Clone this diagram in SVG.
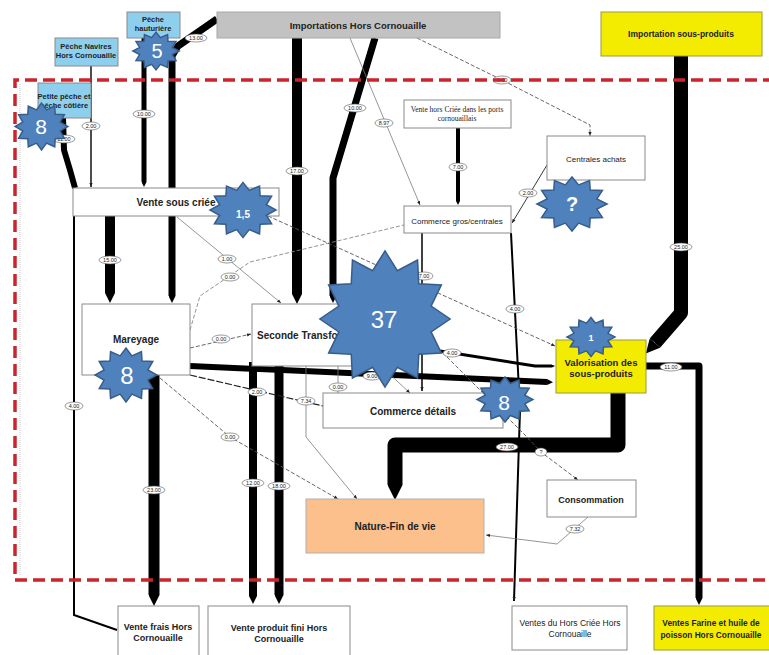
<svg xmlns="http://www.w3.org/2000/svg" xmlns:xlink="http://www.w3.org/1999/xlink" width="769" height="655" viewBox="0 0 769 655">
<style>
.box{fill:#fff;stroke:#8a8a8a;stroke-width:1}
.blue{fill:#8ecfee;stroke:#8a8a8a;stroke-width:1}
.grey{fill:#c2c2c2;stroke:#a8a8a8;stroke-width:1}
.yel{fill:#f4ec00;stroke:#9a9a40;stroke-width:1}
.org{fill:#fbc08c;stroke:#b0b0b0;stroke-width:1}
.t{font-family:"Liberation Sans",Arial,sans-serif;fill:#222;text-anchor:middle}
.ts{font-family:"Liberation Sans",Arial,sans-serif;fill:#222;text-anchor:start}
.b{font-weight:bold}
.ser{font-family:"Liberation Serif","Times New Roman",serif;fill:#222;text-anchor:middle}
.thick{fill:none;stroke:#000;stroke-linejoin:round;marker-end:url(#tip)}
.thin{fill:none;stroke:#7a7a7a;stroke-width:0.8;marker-end:url(#arr)}
.dash{fill:none;stroke:#555;stroke-width:0.9;stroke-dasharray:4 2;marker-end:url(#arr)}
.lbl ellipse{fill:#fff;stroke:#555;stroke-width:0.6}
.lbl text{font-family:"Liberation Sans",Arial,sans-serif;font-size:5.5px;fill:#222;text-anchor:middle}
.star{fill:#4f81bd;stroke:#385d8a;stroke-width:1.5;vector-effect:non-scaling-stroke}
.st{font-family:"Liberation Sans",Arial,sans-serif;fill:#fff;text-anchor:middle}
</style>
<defs>
<marker id="tip" viewBox="0 0 10 10" refX="0" refY="5" markerWidth="1" markerHeight="1" orient="auto" markerUnits="strokeWidth"><path d="M0,0 L10,5 L0,10 z" fill="#000"/></marker>
<marker id="arr" viewBox="0 0 10 10" refX="10" refY="5" markerWidth="4" markerHeight="4" orient="auto" markerUnits="userSpaceOnUse"><path d="M0,1 L10,5 L0,9 z" fill="#222"/></marker>
<polygon id="star" class="star" points="0,-30 5.69,-21.25 15,-25.98 15.56,-15.56 25.98,-15 21.25,-5.69 30,0 21.25,5.69 25.98,15 15.56,15.56 15,25.98 5.69,21.25 0,30 -5.69,21.25 -15,25.98 -15.56,15.56 -25.98,15 -21.25,5.69 -30,0 -21.25,-5.69 -25.98,-15 -15.56,-15.56 -15,-25.98 -5.69,-21.25"/>
</defs>
<rect width="769" height="655" fill="#fff"/>
<line x1="20" y1="84" x2="20" y2="576" stroke="#c8c8c8" stroke-width="1" stroke-dasharray="1 1"/>

<g id="connectors">
<path class="thick" stroke-width="7" d="M217,19 L178,46 L172,56 V296"/>
<path class="thick" stroke-width="5" d="M144,38 V182"/>
<path fill="none" stroke="#000" stroke-width="6" stroke-linejoin="round" d="M63,118 L64,150 L70,170 L75,188"/>
<path class="thick" stroke-width="10" d="M110,216 V293"/>
<path class="thick" stroke-width="10" d="M297,38 V294"/>
<path class="thick" stroke-width="7" d="M375,38 L333,178 V296"/>
<path class="thick" stroke-width="4" d="M458,128 V201"/>
<path class="thick" stroke-width="11" d="M154,375 V595"/>
<path class="thick" stroke-width="8" d="M253,362 V596"/>
<path class="thick" stroke-width="9" d="M279,366 V595"/>
<path class="thick" stroke-width="15" d="M618,393 V445 H395 V485"/>
<path class="thick" stroke-width="7" d="M646,366 H699 V598"/>
<path class="thick" stroke-width="14" d="M681,56 V313 L655,343"/>
<path class="thick" stroke-width="6" d="M190,366 L547,382"/>
<path class="thick" stroke-width="3" d="M440,351 L535,366 H552"/>
<path fill="none" stroke="#000" stroke-width="2" d="M511,233 L520,410 L514,601" marker-end="url(#arr)"/>
<path fill="none" stroke="#000" stroke-width="2" d="M74,216 V615 L117,630"/>
<path fill="none" stroke="#000" stroke-width="1.5" d="M422,233 V391" marker-end="url(#arr)"/>
<path fill="none" stroke="#000" stroke-width="1.4" d="M91,66 V187" marker-end="url(#arr)"/>
<path class="thin" d="M177,217 L281,303"/>
<path class="thin" d="M350,38 L420,205"/>
<path class="dash" stroke="#222" d="M417,38 L500,79 L590,125 V136"/>
<path fill="none" stroke="#222" stroke-width="0.9" d="M547,165 L512,223" marker-end="url(#arr)"/>
<path fill="none" stroke="#888" stroke-width="0.9" stroke-dasharray="4 2" d="M190,330 L200,296 L250,262 L404,225"/>
<path class="dash" stroke="#777" d="M190,348 L251,334"/>
<path fill="none" stroke="#222" stroke-width="1.2" stroke-dasharray="7 2" d="M190,375 L323,406"/>
<path class="thin" d="M306,366 V437 L357,499"/>
<path class="dash" stroke="#888" d="M160,378 L230,437 L338,499"/>
<path fill="none" stroke="#7a7a7a" stroke-width="0.8" d="M338,366 V393"/>
<path class="thin" d="M385,370 L410,393"/>
<path class="dash" stroke="#888" d="M430,340 L525,435 L541,452 L578,480"/>
<path class="dash" stroke="#888" d="M268,216 L555,346"/>
<path class="thin" stroke="#555" d="M588,517 L557,544 L486,535"/>
<g class="lbl"><ellipse cx="196" cy="38" rx="11" ry="4"/><text x="196" y="40">13.00</text></g>
<g class="lbl"><ellipse cx="144" cy="114" rx="11" ry="4"/><text x="144" y="116">10.00</text></g>
<g class="lbl"><ellipse cx="91" cy="126" rx="9" ry="4"/><text x="91" y="128">2.00</text></g>
<g class="lbl"><ellipse cx="64" cy="139" rx="11" ry="4"/><text x="64" y="141">11.00</text></g>
<g class="lbl"><ellipse cx="110" cy="260" rx="11" ry="4"/><text x="110" y="262">15.00</text></g>
<g class="lbl"><ellipse cx="297" cy="171" rx="11" ry="4"/><text x="297" y="173">17.00</text></g>
<g class="lbl"><ellipse cx="355" cy="108" rx="11" ry="4"/><text x="355" y="110">10.00</text></g>
<g class="lbl"><ellipse cx="384" cy="123" rx="9" ry="4"/><text x="384" y="125">8.97</text></g>
<g class="lbl"><ellipse cx="502" cy="80" rx="9" ry="4"/><text x="502" y="82">0.00</text></g>
<g class="lbl"><ellipse cx="458" cy="167" rx="9" ry="4"/><text x="458" y="169">7.00</text></g>
<g class="lbl"><ellipse cx="528" cy="193" rx="9" ry="4"/><text x="528" y="195">2.00</text></g>
<g class="lbl"><ellipse cx="227" cy="259" rx="9" ry="4"/><text x="227" y="261">1.00</text></g>
<g class="lbl"><ellipse cx="230" cy="277" rx="9" ry="4"/><text x="230" y="279">0.00</text></g>
<g class="lbl"><ellipse cx="221" cy="339" rx="9" ry="4"/><text x="221" y="341">0.00</text></g>
<g class="lbl"><ellipse cx="372" cy="376" rx="9" ry="4"/><text x="372" y="378">9.00</text></g>
<g class="lbl"><ellipse cx="452" cy="353" rx="9" ry="4"/><text x="452" y="355">4.00</text></g>
<g class="lbl"><ellipse cx="257" cy="392" rx="9" ry="4"/><text x="257" y="394">2.00</text></g>
<g class="lbl"><ellipse cx="306" cy="401" rx="9" ry="4"/><text x="306" y="403">7.34</text></g>
<g class="lbl"><ellipse cx="253" cy="483" rx="11" ry="4"/><text x="253" y="485">12.00</text></g>
<g class="lbl"><ellipse cx="279" cy="486" rx="11" ry="4"/><text x="279" y="488">18.00</text></g>
<g class="lbl"><ellipse cx="338" cy="387" rx="9" ry="4"/><text x="338" y="389">0.00</text></g>
<g class="lbl"><ellipse cx="424" cy="276" rx="9" ry="4"/><text x="424" y="278">7.00</text></g>
<g class="lbl"><ellipse cx="230" cy="437" rx="9" ry="4"/><text x="230" y="439">0.00</text></g>
<g class="lbl"><ellipse cx="154" cy="490" rx="11" ry="4"/><text x="154" y="492">23.00</text></g>
<g class="lbl"><ellipse cx="74" cy="406" rx="9" ry="4"/><text x="74" y="408">4.00</text></g>
<g class="lbl"><ellipse cx="507" cy="447" rx="11" ry="4"/><text x="507" y="449">27.00</text></g>
<g class="lbl"><ellipse cx="671" cy="367" rx="11" ry="4"/><text x="671" y="369">11.00</text></g>
<g class="lbl"><ellipse cx="681" cy="247" rx="11" ry="4"/><text x="681" y="249">25.00</text></g>
<g class="lbl"><ellipse cx="575" cy="529" rx="9" ry="4"/><text x="575" y="531">7.32</text></g>
<g class="lbl"><ellipse cx="515" cy="309" rx="9" ry="4"/><text x="515" y="311">4.00</text></g>
<g class="lbl"><ellipse cx="541" cy="452" rx="6" ry="4"/><text x="541" y="454">?</text></g>
</g>

<g id="n-peche-hauturiere"><rect class="blue" x="127" y="12" width="53" height="26"/><text class="t b" font-size="7.5" x="153" y="22">Pêche</text><text class="t b" font-size="7.5" x="153" y="31">hauturière</text></g>
<g id="n-peche-navires"><rect class="blue" x="55" y="38" width="63" height="28"/><text class="t b" font-size="7.5" x="86" y="49">Pêche  Navires</text><text class="t b" font-size="7.5" x="86" y="58">Hors Cornouaille</text></g>
<g id="n-petite-peche"><rect class="blue" x="38" y="83" width="53" height="35"/><text class="t b" font-size="7.5" x="64" y="99">Petite pêche et</text><text class="t b" font-size="7.5" x="64" y="108">pêche côtière</text></g>
<g id="n-importations"><rect class="grey" x="217" y="12" width="283" height="26"/><text class="t b" font-size="9.5" x="358" y="29">Importations Hors Cornouaille</text></g>
<g id="n-import-sp"><rect class="yel" x="601" y="12" width="161" height="44"/><text class="t b" font-size="8.5" x="681" y="37">Importation sous-produits</text></g>
<g id="n-vente-hors-criee"><rect class="box" x="404" y="100" width="107" height="28"/><text class="ser" font-size="7.5" x="457" y="112">Vente hors Criée dans les ports</text><text class="ser" font-size="7.5" x="457" y="121">cornouaillais</text></g>
<g id="n-centrales"><rect class="box" x="547" y="136" width="98" height="44"/><text class="t" font-size="8" x="596" y="162">Centrales achats</text></g>
<g id="n-vente-sous-criee"><rect class="box" x="73" y="188" width="206" height="28"/><text class="t b" font-size="10" x="176" y="206">Vente sous criée</text></g>
<g id="n-commerce-gros"><rect class="box" x="404" y="206" width="107" height="27"/><text class="t" font-size="8" x="457" y="224">Commerce gros/centrales</text></g>
<g id="n-mareyage"><rect class="box" x="82" y="304" width="108" height="71"/><text class="t b" font-size="10" x="136" y="343">Mareyage</text></g>
<g id="n-seconde"><rect class="box" x="252" y="304" width="116" height="62"/><text class="ts b" font-size="10" x="257" y="339">Seconde Transformation</text></g>
<g id="n-commerce-details"><rect class="box" x="323" y="393" width="180" height="35"/><text class="t b" font-size="10" x="413" y="415">Commerce détails</text></g>
<g id="n-valorisation"><rect class="yel" x="556" y="340" width="90" height="53"/><text class="t b" font-size="9.5" x="601" y="366">Valorisation des</text><text class="t b" font-size="9.5" x="601" y="377">sous-produits</text></g>
<g id="n-nature"><rect class="org" x="306" y="499" width="178" height="54"/><text class="t b" font-size="10" x="395" y="530">Nature-Fin de vie</text></g>
<g id="n-consommation"><rect class="box" x="547" y="480" width="89" height="37"/><text class="t b" font-size="9" x="591" y="503">Consommation</text></g>
<g id="n-vente-frais"><rect class="box" x="118" y="606" width="81" height="55"/><text class="t b" font-size="9" x="158" y="630">Vente frais Hors</text><text class="t b" font-size="9" x="158" y="641">Cornouaille</text></g>
<g id="n-vente-produit"><rect class="box" x="208" y="606" width="142" height="55"/><text class="t b" font-size="9" x="279" y="631">Vente produit fini Hors</text><text class="t b" font-size="9" x="279" y="642">Cornouaille</text></g>
<g id="n-ventes-hc"><rect class="box" x="512" y="606" width="115" height="44"/><text class="t" font-size="8.5" x="570" y="626">Ventes du Hors Criée Hors</text><text class="t" font-size="8.5" x="570" y="637">Cornouaille</text></g>
<g id="n-farine"><rect class="yel" x="654" y="606" width="125" height="44"/><text class="t b" font-size="8.3" x="711" y="626">Ventes Farine et huile de</text><text class="t b" font-size="8.3" x="711" y="638">poisson Hors Cornouaille</text></g>

<path d="M775,80 H15 V580 H775" fill="none" stroke="#c9252b" stroke-width="3.5" stroke-dasharray="12 6"/>

<g id="stars">
<use xlink:href="#star" href="#star" transform="translate(156,51) scale(0.77,0.63)"/><text class="st" font-size="20" x="157" y="58">5</text>
<use xlink:href="#star" href="#star" transform="translate(41.5,126.5) scale(0.88,0.78)"/><text class="st" font-size="21" x="41" y="134">8</text>
<use xlink:href="#star" href="#star" transform="translate(243,210) scale(1.1,0.92)"/><text class="st b" font-size="10" x="243" y="218">1,5</text>
<use xlink:href="#star" href="#star" transform="translate(572,204) scale(1.17,0.9)"/><text class="st b" font-size="20" x="572" y="211">?</text>
<use xlink:href="#star" href="#star" transform="translate(385,319) scale(2.17,2.27)"/><text class="st" font-size="24" x="384" y="328">37</text>
<use xlink:href="#star" href="#star" transform="translate(591,337) scale(0.8,0.65)"/><text class="st b" font-size="9" x="591" y="341">1</text>
<use xlink:href="#star" href="#star" transform="translate(126,375) scale(1.03,0.9)"/><text class="st" font-size="24" x="127" y="384">8</text>
<use xlink:href="#star" href="#star" transform="translate(505,399.5) scale(0.93,0.75)"/><text class="st" font-size="21" x="504" y="410">8</text>
</g>
</svg>
